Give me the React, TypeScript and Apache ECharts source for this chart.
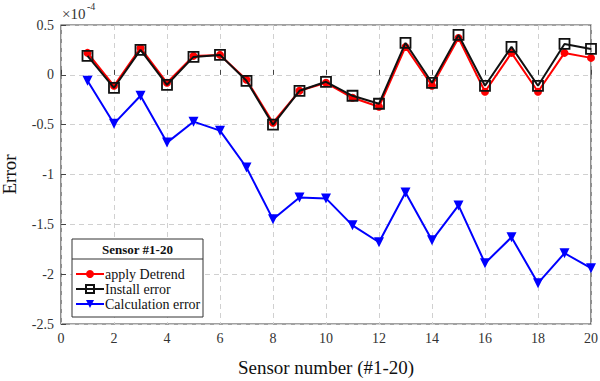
import React, { useEffect, useRef } from "react";
import * as echarts from "echarts";

const sensors = [1, 2, 3, 4, 5, 6, 7, 8, 9, 10, 11, 12, 13, 14, 15, 16, 17, 18, 19, 20];
const applyDetrend = [0.22, -0.11, 0.27, -0.08, 0.19, 0.2, -0.05, -0.48, -0.16, -0.08, -0.23, -0.32, 0.28, -0.11, 0.37, -0.17, 0.22, -0.17, 0.22, 0.17];
const installError = [0.19, -0.13, 0.25, -0.1, 0.18, 0.2, -0.06, -0.5, -0.16, -0.07, -0.21, -0.29, 0.32, -0.08, 0.4, -0.11, 0.28, -0.11, 0.31, 0.26];
const calcError = [-0.06, -0.49, -0.21, -0.68, -0.47, -0.56, -0.93, -1.45, -1.23, -1.24, -1.51, -1.68, -1.18, -1.66, -1.31, -1.89, -1.63, -2.09, -1.79, -1.94];
const xTicks = [0, 2, 4, 6, 8, 10, 12, 14, 16, 18, 20];
const yTicks = [0.5, 0, -0.5, -1, -1.5, -2, -2.5];

const FONT = "Liberation Serif";

export default function App() {
  const ref = useRef<HTMLDivElement>(null);
  useEffect(() => {
    if (!ref.current) return;
    const chart = echarts.init(ref.current, null, { renderer: "svg" });
    const pair = (vals: number[]) => sensors.map((s, i) => [s, vals[i]]);
    const gridLine = { show: true, lineStyle: { color: "#d0d0d0", type: [5, 4] as any, width: 1 } };
    const baseGraphic: any[] = [
      { type: "rect", shape: { x: 72, y: 239, width: 131, height: 78 }, style: { fill: "#fff", stroke: "#333", lineWidth: 1 }, z: 10 },
      { type: "line", shape: { x1: 72, y1: 259, x2: 203, y2: 259 }, style: { stroke: "#333", lineWidth: 1 }, z: 11 },
      { type: "text", x: 137.5, y: 249, style: { text: "Sensor #1-20", fontFamily: FONT, fontSize: 13, fontWeight: "bold", fill: "#111", align: "center", verticalAlign: "middle" }, z: 11 },
      { type: "text", x: 62, y: 6, style: { text: "×10", fontFamily: FONT, fontSize: 15, fill: "#333" } },
      { type: "text", x: 87, y: 1, style: { text: "-4", fontFamily: FONT, fontSize: 10, fill: "#333" } },
    ];
    chart.setOption({
      animation: false,
      backgroundColor: "#fff",
      grid: { left: 61, right: 9, top: 25, bottom: 57, show: true, borderColor: "#444", borderWidth: 1.2, backgroundColor: "transparent", outerBoundsMode: "none" },
      xAxis: {
        type: "value", min: 0, max: 20, interval: 2,
        name: "Sensor number (#1-20)", nameLocation: "middle", nameGap: 34,
        nameTextStyle: { fontFamily: FONT, fontSize: 19, color: "#111" },
        axisLine: { show: false },
        axisTick: { show: true, inside: true, length: 5, lineStyle: { color: "#444" } },
        axisLabel: { show: false },
        splitLine: gridLine,
      },
      yAxis: {
        type: "value", min: -2.5, max: 0.5, interval: 0.5,
        name: "Error", nameLocation: "middle", nameGap: 42,
        nameTextStyle: { fontFamily: FONT, fontSize: 19, color: "#111" },
        axisLine: { show: false },
        axisTick: { show: true, inside: true, length: 5, lineStyle: { color: "#444" } },
        axisLabel: { show: false },
        splitLine: gridLine,
      },
      legend: {
        orient: "vertical", left: 70, top: 262, itemGap: 1, itemWidth: 28, itemHeight: 10, z: 20,
        textStyle: { fontFamily: FONT, fontSize: 14, color: "#111", padding: [0, 0, 0, -4] },
        data: ["apply Detrend", "Install error", "Calculation error"],
      },
      graphic: baseGraphic,
      series: [
        {
          name: "apply Detrend", type: "line", data: pair(applyDetrend),
          symbol: "circle", symbolSize: 8,
          lineStyle: { color: "#ff0000", width: 2 }, itemStyle: { color: "#ff0000" }, z: 3,
        },
        {
          name: "Install error", type: "line", data: pair(installError),
          symbol: "rect", symbolSize: 10,
          lineStyle: { color: "#111", width: 2 }, itemStyle: { color: "rgba(255,255,255,0)", borderColor: "#111", borderWidth: 1.8 }, z: 4,
        },
        {
          name: "Calculation error", type: "line", data: pair(calcError),
          symbol: "triangle", symbolRotate: 180, symbolSize: 10,
          lineStyle: { color: "#0000ff", width: 2 }, itemStyle: { color: "#0000ff" }, z: 3,
        },
      ],
    });
    const tickTexts: any[] = [];
    try {
      xTicks.forEach((v) => {
        const p = chart.convertToPixel({ gridIndex: 0 }, [v, -2.5]) as number[];
        if (p) tickTexts.push({ type: "text", x: p[0], y: p[1] + 7, style: { text: String(v), fontFamily: FONT, fontSize: 14, fill: "#333", align: "center", verticalAlign: "top" } });
      });
      yTicks.forEach((v) => {
        const p = chart.convertToPixel({ gridIndex: 0 }, [0, v]) as number[];
        if (p) tickTexts.push({ type: "text", x: p[0] - 7, y: p[1], style: { text: String(v), fontFamily: FONT, fontSize: 14, fill: "#333", align: "right", verticalAlign: "middle" } });
      });
      chart.setOption({ graphic: [...baseGraphic, ...tickTexts] });
    } catch (e) {
      chart.setOption({ xAxis: { axisLabel: { show: true, fontFamily: FONT, fontSize: 14, color: "#333" } }, yAxis: { axisLabel: { show: true, fontFamily: FONT, fontSize: 14, color: "#333" } } });
    }
    return () => chart.dispose();
  }, []);
  return <div ref={ref} style={{ position: "fixed", left: 0, top: 0, width: 600, height: 381 }} />;
}
